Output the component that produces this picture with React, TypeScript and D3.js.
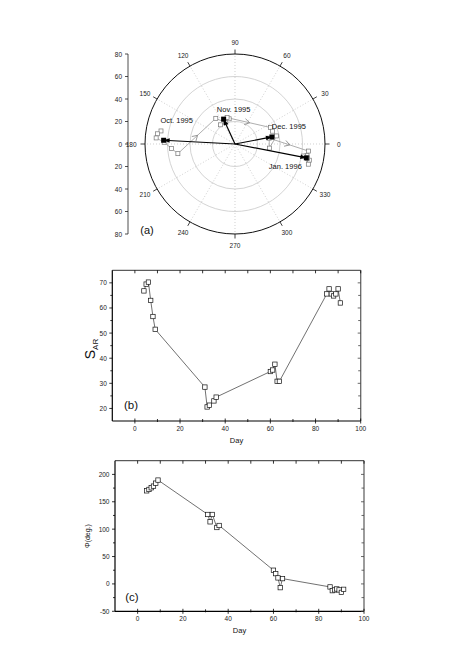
import React from 'react';
import * as d3 from 'd3';

// daily values, Oct 1995 - Jan 1996
const days = [4, 5, 6, 7, 8, 9, 31, 32, 33, 35, 36, 60, 61, 62, 63, 64, 85, 86, 87, 88, 89, 90, 91];
const sAR = [66.8, 69.5, 70.3, 63.0, 56.6, 51.5, 28.5, 20.6, 21.3, 23.0, 24.5, 34.7, 35.3, 37.6, 30.8, 30.8, 65.6, 67.6, 65.6, 64.8, 65.6, 67.6, 62.0];
const phi = [170, 172.5, 175.6, 178.6, 184, 189.6, 126.8, 113.4, 126.8, 103, 106.7, 25, 18.8, 11, -6.8, 9.7, -5.5, -12.3, -11, -9.2, -11, -15.4, -9.9];

// monthly mean vectors
const months = ['Oct. 1995', 'Nov. 1995', 'Dec. 1995', 'Jan. 1996'];
const monthR = [63.5, 24.3, 33.4, 64.6];
const monthPhi = [177, 114.6, 10.8, -11];
// last index of each month in the daily arrays (for the gray arrows between months)
const monthEnds = [5, 10, 15];

const angleTicks = [0, 30, 60, 90, 120, 150, 180, 210, 240, 270, 300, 330];
const radialTicks = [-80, -60, -40, -20, 0, 20, 40, 60, 80];
const ringValues = [20, 40, 60];

const labelOffsets = [[13, -17], [10, -7], [17, -8], [-21, 11]];

const FONT = '"Liberation Sans", Arial, Helvetica, sans-serif';
const rad = (a: number) => (a * Math.PI) / 180;

function Polar() {
  const cx = 235, cy = 144, R = 90;
  const r = d3.scaleLinear().domain([0, 80]).range([0, R]);
  const pt = (v: number, a: number): [number, number] => [cx + r(v) * Math.cos(rad(a)), cy - r(v) * Math.sin(rad(a))];
  const ax = d3.scaleLinear().domain([-80, 80]).range([cy + R, cy - R]);
  const pts = sAR.map((s, i) => pt(s, phi[i]));
  const line = d3.line();

  const chevron = (p0: [number, number], p1: [number, number], key: string) => {
    const mx = (p0[0] + p1[0]) / 2, my = (p0[1] + p1[1]) / 2;
    const ang = Math.atan2(p1[1] - p0[1], p1[0] - p0[0]) * 180 / Math.PI;
    return (
      <path key={key} d="M-4,-3L1,0L-4,3" fill="none" stroke="#888" strokeWidth={0.8}
        transform={`translate(${mx},${my}) rotate(${ang})`} />
    );
  };

  return (
    <g fontFamily={FONT}>
      {ringValues.map(v => (
        <circle key={v} cx={cx} cy={cy} r={r(v)} fill="none" stroke="#c8c8c8" strokeWidth={0.8} />
      ))}
      {angleTicks.map(a => {
        const [x, y] = pt(80, a);
        return <line key={'s' + a} x1={cx} y1={cy} x2={x} y2={y} stroke="#bbb" strokeWidth={0.7} strokeDasharray="1,2" />;
      })}
      <circle cx={cx} cy={cy} r={R} fill="none" stroke="#111" strokeWidth={1} />
      {angleTicks.map(a => {
        const [x1, y1] = pt(80, a);
        const [x2, y2] = pt(84, a);
        const [lx, ly] = pt(87, a);
        return (
          <g key={'t' + a}>
            <line x1={x1} y1={y1} x2={x2} y2={y2} stroke="#111" strokeWidth={0.8} />
            <text x={lx + Math.cos(rad(a)) * 6} y={ly - Math.sin(rad(a)) * 4} fontSize={6.5} fill="#222"
              textAnchor="middle" dominantBaseline="central">{a}</text>
          </g>
        );
      })}

      {/* radial axis */}
      <line x1={128} x2={128} y1={ax(80)} y2={ax(-80)} stroke="#222" strokeWidth={0.8} />
      {radialTicks.map(v => (
        <g key={'r' + v}>
          <line x1={125} x2={128} y1={ax(v)} y2={ax(v)} stroke="#222" strokeWidth={0.8} />
          <text x={122} y={ax(v)} fontSize={6.5} fill="#222" textAnchor="end" dominantBaseline="central">{Math.abs(v)}</text>
        </g>
      ))}

      {/* daily path */}
      <path d={line(pts) || ''} fill="none" stroke="#999" strokeWidth={0.8} />
      {monthEnds.map(i => chevron(pts[i], pts[i + 1], 'c' + i))}
      {pts.map((p, i) => (
        <rect key={'p' + i} x={p[0] - 2} y={p[1] - 2} width={4} height={4} fill="white" stroke="#777" strokeWidth={0.7} />
      ))}

      {/* monthly vectors */}
      {months.map((m, i) => {
        const [x, y] = pt(monthR[i], monthPhi[i]);
        const ang = -monthPhi[i];
        return (
          <g key={m}>
            <line x1={cx} y1={cy} x2={x} y2={y} stroke="#000" strokeWidth={1.2} />
            <path d="M0,0L-6,-2.3L-6,2.3Z" fill="#000" transform={`translate(${x},${y}) rotate(${ang})`} />
            <rect x={x - 2.5} y={y - 2.5} width={5} height={5} fill="#000" />
            <text x={x + labelOffsets[i][0]} y={y + labelOffsets[i][1]} fontSize={7.5} fill="#111" textAnchor="middle">{m}</text>
          </g>
        );
      })}
      <text x={147} y={234} fontSize={11} fill="#111" textAnchor="middle">(a)</text>
    </g>
  );
}

type PanelProps = {
  values: number[];
  x0: number; x1: number; y0: number; y1: number;
  yDomain: [number, number];
  yMajor: number; yMinor: number;
  tag: string;
  tagPos: [number, number];
  yLabel: React.ReactNode;
};

function TimePanel({ values, x0, x1, y0, y1, yDomain, yMajor, yMinor, tag, tagPos, yLabel }: PanelProps) {
  const x = d3.scaleLinear().domain([-10, 100]).range([x0, x1]);
  const y = d3.scaleLinear().domain(yDomain).range([y0, y1]);
  const xMajor = d3.range(0, 101, 20);
  const xMinor = d3.range(-10, 101, 10).filter(v => v % 20 !== 0 && v > -10);
  const yMaj = d3.range(Math.ceil(yDomain[0] / yMajor) * yMajor, yDomain[1] + 0.01, yMajor);
  const yMin = d3.range(Math.ceil(yDomain[0] / yMinor) * yMinor, yDomain[1] + 0.01, yMinor)
    .filter(v => Math.abs(v % yMajor) > 0.01 && v > yDomain[0] && v < yDomain[1]);
  const line = d3.line<number>().x((_, i) => x(days[i])).y(v => y(v));

  return (
    <g fontFamily={FONT}>
      <line x1={x0} x2={x1} y1={y1} y2={y1} stroke="#333" strokeWidth={1} />
      <line x1={x1} x2={x1} y1={y1} y2={y0} stroke="#666" strokeWidth={1.3} />
      <line x1={x0} x2={x1} y1={y0} y2={y0} stroke="#000" strokeWidth={1.2} />
      <line x1={x0} x2={x0} y1={y1} y2={y0} stroke="#000" strokeWidth={1.2} />

      {xMajor.map(v => (
        <g key={'xm' + v}>
          <line x1={x(v)} x2={x(v)} y1={y0 - 2.5} y2={y0 + 2.5} stroke="#000" strokeWidth={0.8} />
          <line x1={x(v)} x2={x(v)} y1={y1} y2={y1 + 3} stroke="#000" strokeWidth={0.8} />
          <text x={x(v)} y={y0 + 10} fontSize={6.5} textAnchor="middle" fill="#222">{v}</text>
        </g>
      ))}
      {xMinor.map(v => (
        <g key={'xn' + v}>
          <line x1={x(v)} x2={x(v)} y1={y0 - 2} y2={y0 + 1} stroke="#000" strokeWidth={0.8} />
          <line x1={x(v)} x2={x(v)} y1={y1} y2={y1 + 3} stroke="#000" strokeWidth={0.8} />
        </g>
      ))}
      {yMaj.map(v => (
        <g key={'ym' + v}>
          <line x1={x0 - 3} x2={x0} y1={y(v)} y2={y(v)} stroke="#000" strokeWidth={0.8} />
          <line x1={x1 - 3} x2={x1} y1={y(v)} y2={y(v)} stroke="#444" strokeWidth={0.8} />
          <text x={x0 - 5.5} y={y(v)} fontSize={6.5} textAnchor="end" dominantBaseline="central" fill="#222">{v}</text>
        </g>
      ))}
      {yMin.map(v => (
        <g key={'yn' + v}>
          <line x1={x0 - 2} x2={x0} y1={y(v)} y2={y(v)} stroke="#000" strokeWidth={0.8} />
          <line x1={x1 - 2.5} x2={x1} y1={y(v)} y2={y(v)} stroke="#444" strokeWidth={0.8} />
        </g>
      ))}

      <path d={line(values) || ''} fill="none" stroke="#333" strokeWidth={0.7} />
      {values.map((v, i) => (
        <rect key={'p' + i} x={x(days[i]) - 2.2} y={y(v) - 2.2} width={4.4} height={4.4} fill="white" stroke="#111" strokeWidth={0.7} />
      ))}

      <text x={tagPos[0]} y={tagPos[1]} fontSize={11.5} textAnchor="middle" fill="#111">{tag}</text>
      <text x={(x0 + x1) / 2} y={y0 + 22} fontSize={7.5} textAnchor="middle" fill="#111">Day</text>
      {yLabel}
    </g>
  );
}

export default function App() {
  return (
    <svg width={463} height={666} style={{ position: 'absolute', left: 0, top: 0, background: 'white' }}>
      <rect width={463} height={666} fill="white" />
      <Polar />
      <TimePanel
        values={sAR}
        x0={112.3} x1={360.7} y0={421} y1={270.3}
        yDomain={[15, 75]} yMajor={10} yMinor={5}
        tag="(b)" tagPos={[131, 409]}
        yLabel={
          <text transform="translate(95,349) rotate(-90)" fontFamily={FONT} fill="#111" textAnchor="middle">
            <tspan fontSize={14}>S</tspan>
            <tspan fontSize={8} dy={3}>AR</tspan>
          </text>
        }
      />
      <TimePanel
        values={phi}
        x0={115} x1={364} y0={611.3} y1={460.7}
        yDomain={[-50, 225]} yMajor={50} yMinor={25}
        tag="(c)" tagPos={[132, 601]}
        yLabel={
          <text transform="translate(90,536) rotate(-90)" fontFamily={FONT} fontSize={7} fill="#111" textAnchor="middle">
            Φ(deg.)
          </text>
        }
      />
    </svg>
  );
}
